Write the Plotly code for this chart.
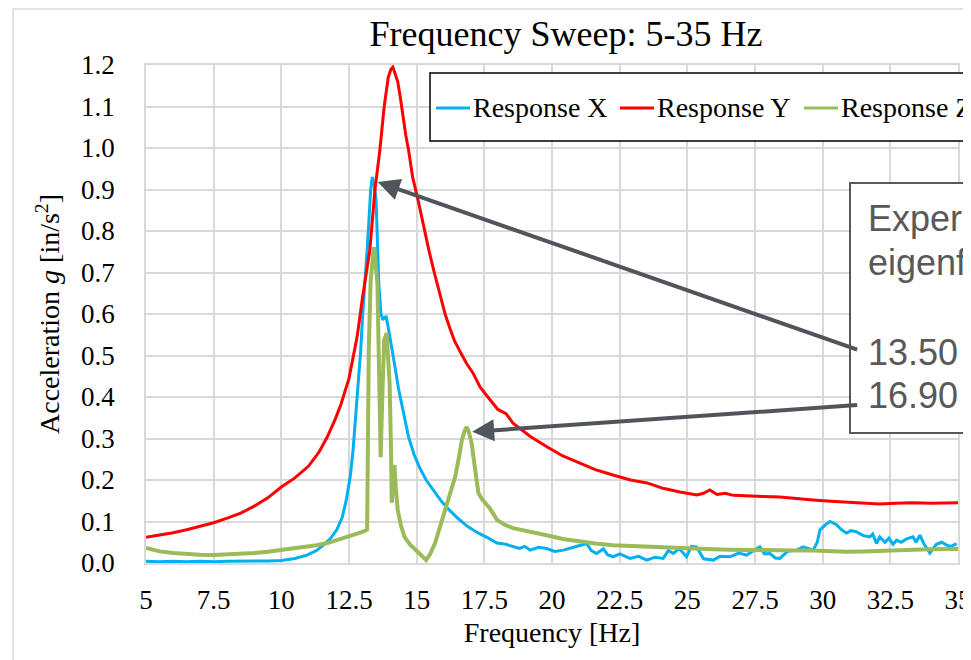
import plotly.graph_objects as go

# Response X (blue)
freq_x = [5.0, 5.5, 6.0, 6.5, 7.0, 7.5, 8.0, 8.5, 9.0, 9.5, 10.0, 10.5, 10.95, 11.3, 11.55,
          11.8, 12.05, 12.25, 12.4, 12.55, 12.65, 12.75, 12.85, 12.93, 13.0, 13.1, 13.17, 13.25,
          13.3, 13.36, 13.42, 13.5, 13.55, 13.6, 13.68, 13.75, 13.82, 13.87, 13.93, 14.0, 14.1,
          14.2, 14.33, 14.47, 14.6, 14.7, 14.9, 15.1, 15.35, 15.6, 15.9, 16.2, 16.55, 16.9, 17.25,
          17.65, 17.97, 18.3, 18.56, 18.8, 19.0, 19.19, 19.5, 19.8, 20.1, 20.42, 20.7, 21.03,
          21.28, 21.45, 21.65, 21.9, 22.05, 22.26, 22.5, 22.88, 23.2, 23.5, 23.8, 24.11, 24.3,
          24.48, 24.7, 24.97, 25.15, 25.34, 25.6, 25.96, 26.2, 26.57, 26.9, 27.19, 27.45, 27.68,
          27.85, 28.05, 28.25, 28.42, 28.7, 29.04, 29.28, 29.45, 29.65, 29.8, 29.9, 30.1, 30.27,
          30.5, 30.7, 30.88, 31.05, 31.25, 31.5, 31.75, 31.85, 31.99, 32.11, 32.3, 32.45, 32.6,
          32.73, 32.9, 33.1, 33.34, 33.45, 33.59, 33.75, 33.96, 34.2, 34.4, 34.58, 34.75, 34.95]
resp_x = [0.004, 0.003, 0.004, 0.003, 0.004, 0.003, 0.004, 0.004, 0.005, 0.005, 0.006, 0.011,
          0.019, 0.03, 0.043, 0.058, 0.08, 0.11, 0.152, 0.21, 0.272, 0.35, 0.434, 0.51, 0.593,
          0.68, 0.754, 0.84, 0.899, 0.93, 0.915, 0.875, 0.78, 0.675, 0.6, 0.586, 0.592, 0.593,
          0.575, 0.545, 0.51, 0.472, 0.42, 0.376, 0.335, 0.304, 0.262, 0.231, 0.2, 0.176, 0.15,
          0.128, 0.106, 0.087, 0.073, 0.06, 0.048, 0.045, 0.039, 0.035, 0.04, 0.031, 0.038,
          0.035, 0.028, 0.031, 0.036, 0.043, 0.047, 0.03, 0.023, 0.034, 0.02, 0.015, 0.022,
          0.011, 0.016, 0.007, 0.014, 0.011, 0.03, 0.023, 0.035, 0.015, 0.04, 0.039, 0.01,
          0.007, 0.016, 0.015, 0.024, 0.019, 0.03, 0.039, 0.022, 0.023, 0.012, 0.011, 0.028,
          0.031, 0.039, 0.035, 0.031, 0.05, 0.08, 0.092, 0.1, 0.093, 0.08, 0.072, 0.078, 0.075,
          0.066, 0.063, 0.07, 0.047, 0.063, 0.05, 0.06, 0.045, 0.055, 0.05, 0.058, 0.063, 0.05,
          0.067, 0.045, 0.024, 0.045, 0.05, 0.043, 0.04, 0.047]

# Response Y (red)
freq_y = [5.0, 5.5, 6.0, 6.5, 7.0, 7.5, 8.0, 8.5, 9.0, 9.5, 10.0, 10.5, 11.0, 11.4, 11.7,
          12.0, 12.2, 12.5, 12.8, 13.0, 13.27, 13.46, 13.64, 13.8, 13.95, 14.05, 14.12, 14.2,
          14.3, 14.4, 14.5, 14.6, 14.7, 14.85, 15.05, 15.25, 15.45, 15.65, 15.86, 16.05, 16.23,
          16.4, 16.6, 16.85, 17.08, 17.34, 17.63, 18.0, 18.3, 18.56, 19.2, 19.81, 20.4, 21.03,
          21.6, 22.25, 22.9, 23.51, 24.1, 24.73, 25.35, 25.6, 25.83, 26.1, 26.4, 26.7, 27.2,
          27.8, 28.42, 29.0, 29.64, 30.3, 30.9, 31.5, 32.1, 32.7, 33.3, 34.0, 34.5, 35.0]
resp_y = [0.062, 0.067, 0.073, 0.08, 0.088, 0.097, 0.108, 0.12, 0.137, 0.157, 0.183, 0.205,
          0.233, 0.268, 0.304, 0.348, 0.382, 0.445, 0.545, 0.64, 0.754, 0.9, 0.995, 1.1, 1.17,
          1.19, 1.195, 1.18, 1.16, 1.12, 1.07, 1.03, 0.995, 0.93, 0.875, 0.81, 0.754, 0.7, 0.645,
          0.6, 0.565, 0.535, 0.51, 0.48, 0.458, 0.424, 0.4, 0.37, 0.36, 0.337, 0.305, 0.28,
          0.258, 0.241, 0.225, 0.212, 0.2, 0.193, 0.18, 0.171, 0.164, 0.168, 0.176, 0.165,
          0.168, 0.163, 0.161, 0.16, 0.159, 0.155, 0.152, 0.149, 0.147, 0.145, 0.142, 0.144,
          0.145, 0.144, 0.145, 0.145]

# Response Z (green)
freq_z = [5.0, 5.5, 6.0, 6.5, 7.0, 7.5, 8.0, 8.5, 9.0, 9.5, 10.0, 10.5, 10.95, 11.3, 11.7,
          12.0, 12.4, 12.7, 13.0, 13.17, 13.2, 13.23, 13.3, 13.42, 13.55, 13.62, 13.67, 13.73,
          13.8, 13.89, 13.95, 14.0, 14.05, 14.08, 14.14, 14.18, 14.23, 14.3, 14.42, 14.55, 14.75,
          14.95, 15.15, 15.35, 15.5, 15.68, 15.85, 16.05, 16.25, 16.42, 16.55, 16.67, 16.78,
          16.85, 16.93, 17.03, 17.15, 17.28, 17.4, 17.52, 17.7, 17.97, 18.25, 18.56, 19.2, 19.8,
          20.4, 21.03, 21.6, 22.26, 22.9, 23.5, 24.1, 24.73, 25.35, 25.96, 26.57, 27.19, 27.8,
          28.42, 29.04, 29.65, 30.27, 30.88, 31.5, 32.11, 32.73, 33.34, 33.96, 34.58, 35.0]
resp_z = [0.036, 0.028, 0.024, 0.021, 0.02, 0.019, 0.02, 0.021, 0.024, 0.027, 0.031, 0.035,
          0.039, 0.043, 0.048, 0.054, 0.063, 0.069, 0.075, 0.08, 0.3, 0.513, 0.68, 0.761, 0.675,
          0.45, 0.255, 0.4, 0.537, 0.554, 0.5, 0.434, 0.28, 0.145, 0.2, 0.236, 0.18, 0.128, 0.09,
          0.063, 0.045, 0.031, 0.02, 0.007, 0.022, 0.048, 0.085, 0.128, 0.168, 0.207, 0.25,
          0.296, 0.32, 0.328, 0.315, 0.289, 0.23, 0.169, 0.155, 0.147, 0.132, 0.104, 0.092,
          0.084, 0.074, 0.067, 0.058, 0.051, 0.047, 0.043, 0.041, 0.039, 0.037, 0.035, 0.034,
          0.033, 0.032, 0.031, 0.031, 0.031, 0.03, 0.03, 0.028, 0.027, 0.028, 0.03, 0.031,
          0.032, 0.033, 0.033, 0.034]

series_names = ["Response X", "Response Y", "Response Z"]
series_colors = ["#00b0f0", "#ff0000", "#9bbb59"]

peak_freqs = [13.36, 16.85]
peak_vals = [0.93, 0.328]
box_lines = ["Experimental", "eigenfrequencies:", "", "13.50 Hz", "16.90 Hz"]

serif = "Liberation Serif"
sans = "Liberation Sans"

# page offset of the figure (body margin) and plot area in page pixels
OFF = 8
L, R, T, B = 146, 958, 65, 563
def px(x):
    return (x - L) / (R - L)
def py(y):
    return (B - y) / (B - T)

fig = go.Figure()
for f, v, name, col, w in zip([freq_x, freq_y, freq_z], [resp_x, resp_y, resp_z],
                              series_names, series_colors, [3, 3, 4]):
    fig.add_trace(go.Scatter(x=f, y=v, mode="lines", name=name,
                             line=dict(color=col, width=w), showlegend=False))

# outer chart border
fig.add_shape(type="rect", xref="paper", yref="paper", x0=px(13), x1=px(1200),
              y0=py(900), y1=py(OFF + 1), line=dict(color="#d9d9d9", width=1.5))

# legend box (cropped on the right like the original)
fig.add_shape(type="rect", xref="paper", yref="paper", x0=px(430), x1=px(1200),
              y0=py(141), y1=py(73), line=dict(color="black", width=1.5),
              fillcolor="white")
leg_x = [436, 620, 804]
for lx, name, col in zip(leg_x, series_names, series_colors):
    fig.add_shape(type="line", xref="paper", yref="paper", x0=px(lx), x1=px(lx + 34),
                  y0=py(108), y1=py(108), line=dict(color=col, width=3))
    fig.add_annotation(text=name, xref="paper", yref="paper", x=px(lx + 35), y=py(108),
                       xanchor="left", yanchor="middle", showarrow=False,
                       font=dict(family=serif, size=28, color="black"))

# eigenfrequency box
fig.add_shape(type="rect", xref="paper", yref="paper", x0=px(850), x1=px(1200),
              y0=py(433), y1=py(183), line=dict(color="#595959", width=2),
              fillcolor="white")
line_y = [218, 262, 307, 352, 395]
for ty, txt in zip(line_y, box_lines):
    if txt:
        fig.add_annotation(text=txt, xref="paper", yref="paper", x=px(866), y=py(ty),
                           xanchor="left", yanchor="middle", showarrow=False,
                           font=dict(family=sans, size=36, color="#595959"))

tail_y = [0.513, 0.381]
for fx, fv, ty in zip(peak_freqs, peak_vals, tail_y):
    fig.add_annotation(x=fx + 0.2, y=fv - 0.012, ax=31.33, ay=ty, xref="x", yref="y",
                       axref="x", ayref="y", text="", showarrow=True, arrowhead=2,
                       arrowsize=1.1, arrowwidth=4, arrowcolor="#50555b", standoff=0)

fig.update_xaxes(range=[5, 35], dtick=2.5, tick0=5, showgrid=True, gridcolor="#d9d9d9",
                 gridwidth=1.5, showline=True, linecolor="#d9d9d9", linewidth=1.5,
                 mirror=True, zeroline=False, ticks="outside", ticklen=12,
                 tickcolor="rgba(0,0,0,0)", automargin=False,
                 tickfont=dict(family=serif, size=27, color="black"),
                 title=dict(text="Frequency [Hz]", standoff=8,
                            font=dict(family=serif, size=28, color="black")))
fig.update_yaxes(range=[0, 1.2], dtick=0.1, tick0=0, tickformat=".1f", showgrid=True,
                 gridcolor="#d9d9d9", gridwidth=1.5, showline=True, linecolor="#d9d9d9",
                 linewidth=1.5, mirror=True, zeroline=False, ticks="outside", ticklen=24,
                 tickcolor="rgba(0,0,0,0)", automargin=False,
                 tickfont=dict(family=serif, size=27, color="black"),
                 title=dict(text="Acceleration <i>g</i> [in/s<sup>2</sup>]", standoff=13,
                            font=dict(family=serif, size=28, color="black")))

fig.update_layout(
    title=dict(text="Frequency Sweep: 5-35 Hz", x=px(566), xref="paper", xanchor="center",
               y=1 - (33 - OFF) / 660, yanchor="middle",
               font=dict(family=serif, size=36, color="black")),
    width=971, height=660,
    margin=dict(l=L - OFF, r=971 - (R - OFF), t=T - OFF, b=660 - (B - OFF)),
    plot_bgcolor="white", paper_bgcolor="white",
    showlegend=False)

fig.write_html("out.html")
